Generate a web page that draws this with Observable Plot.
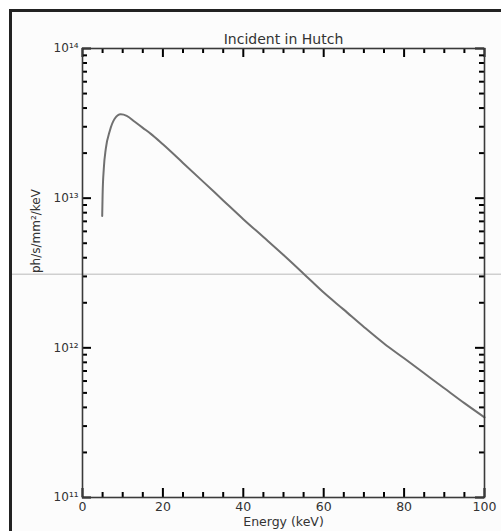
<!DOCTYPE html>
<html><head><meta charset="utf-8">
<script src="https://cdn.jsdelivr.net/npm/d3@7"></script>
<script src="https://cdn.jsdelivr.net/npm/@observablehq/plot@0.6"></script>
<style>
body{margin:0;background:#fff;}
#wrap{position:relative;width:501px;height:531px;overflow:hidden;background:#fff;}
#border{position:absolute;left:9px;top:9px;width:700px;height:700px;border-left:3px solid #222;border-top:3px solid #222;background:#fcfcfc;}
#chart{position:absolute;left:0;top:0;}
</style></head><body>
<div id="wrap"><div id="border"></div><div id="chart"></div></div>
<script>
// Energy (keV)
const energy = [4.9, 5.0, 5.3, 5.8, 6.8, 8.0, 9.5, 11, 13, 15, 17, 20, 25, 30, 35, 40, 45, 50, 55, 60, 65, 70, 75, 80, 85, 90, 95, 100];
// Flux (ph/s/mm^2/keV)
const flux = [7.59e12, 1.05e13, 1.58e13, 2.14e13, 2.82e13, 3.39e13, 3.63e13, 3.55e13, 3.24e13, 2.95e13, 2.69e13, 2.29e13, 1.72e13, 1.29e13, 9.66e12, 7.24e12, 5.50e12, 4.17e12, 3.13e12, 2.34e12, 1.80e12, 1.38e12, 1.07e12, 8.51e11, 6.76e11, 5.37e11, 4.27e11, 3.43e11];
// horizontal reference line level
const guideLevel = [3.1e12];
// tick values
const xMajor = [0, 20, 40, 60, 80, 100];
const xMinor = [5, 10, 15, 25, 30, 35, 45, 50, 55, 65, 70, 75, 85, 90, 95];
const yMajor = [1e11, 1e12, 1e13, 1e14];
const yMinorMult = [2, 3, 4, 5, 6, 7, 8, 9];
const yDecades = [1e11, 1e12, 1e13];
const yMinor = yDecades.flatMap(d => yMinorMult.map(m => m * d));
const titleText = ["Incident in Hutch"];
const xLabel = ["Energy (keV)"];
const yLabel = ["ph/s/mm²/keV"];

const sup = {"0":"⁰","1":"¹","2":"²","3":"³","4":"⁴","5":"⁵","6":"⁶","7":"⁷","8":"⁸","9":"⁹"};
const fmtPow = d => "10" + String(Math.round(Math.log10(d))).split("").map(c => sup[c]).join("");

const W = 501, H = 531, ML = 82, MR = 17, MT = 48, MB = 34;
const FW = W - ML - MR, FH = H - MT - MB;
const data = energy.map((e, i) => ({e, f: flux[i]}));
const ink = "#333";
const tk = {stroke: "black", strokeWidth: 2};
// inward ticks: rules spanning the frame, inset so only `len` pixels remain at one edge
const xTicks = (vals, len) => [
  Plot.ruleX(vals, {...tk, insetTop: FH - len}),
  Plot.ruleX(vals, {...tk, insetBottom: FH - len})
];
const yTicks = (vals, len) => [
  Plot.ruleY(vals, {...tk, insetRight: FW - len}),
  Plot.ruleY(vals, {...tk, insetLeft: FW - len})
];

const plot = Plot.plot({
  width: W, height: H,
  marginLeft: ML, marginRight: MR, marginTop: MT, marginBottom: MB,
  style: {background: "transparent", fontFamily: "DejaVu Sans, sans-serif", color: ink, overflow: "visible"},
  x: {domain: [0, 100]},
  y: {type: "log", domain: [1e11, 1e14]},
  marks: [
    Plot.ruleY(guideLevel, {stroke: "#cfcfcf", strokeWidth: 1.5, insetLeft: -70, insetRight: -17}),
    Plot.line(data, {x: "e", y: "f", stroke: "#707070", strokeWidth: 2, curve: "monotone-x"}),
    ...xTicks(xMajor, 9), ...xTicks(xMinor, 5),
    ...yTicks(yMajor, 9), ...yTicks(yMinor, 5),
    Plot.frame({stroke: "#3a3a3a", strokeWidth: 1.6}),
    // tick labels
    Plot.axisX(xMajor, {anchor: "bottom", tickSize: 0, tickPadding: 5, fontSize: 12.5, label: null, fill: ink}),
    Plot.axisY(yMajor, {anchor: "left", tickSize: 0, tickPadding: 4, fontSize: 12, label: null, fill: ink, tickFormat: fmtPow}),
    // titles
    Plot.text(titleText, {frameAnchor: "top", dy: -14, fontSize: 14, fill: ink}),
    Plot.text(xLabel, {frameAnchor: "bottom", dy: 28, fontSize: 12.5, fill: ink}),
    Plot.text(yLabel, {frameAnchor: "left", dx: -46, rotate: -90, fontSize: 12, fill: ink})
  ]
});
document.getElementById("chart").appendChild(plot);
</script>
</body></html>
